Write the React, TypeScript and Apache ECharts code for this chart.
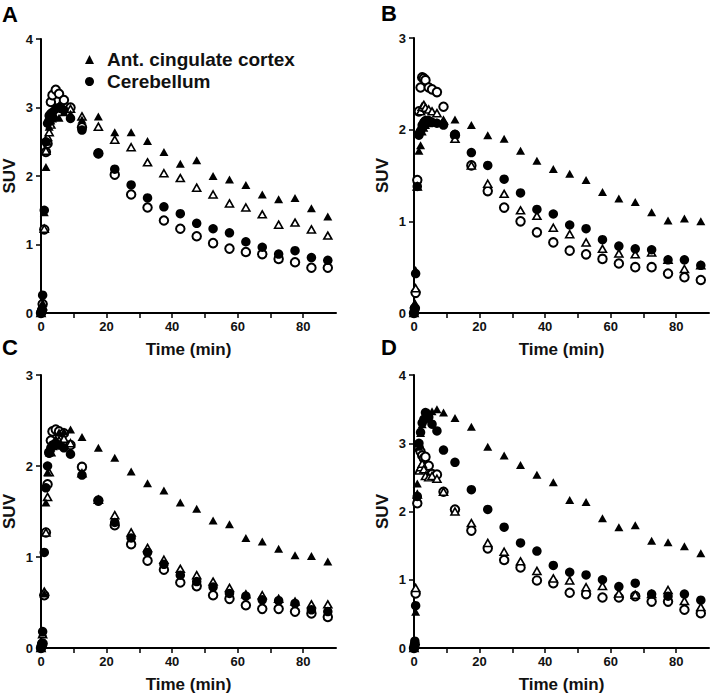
import React, { useEffect, useRef } from "react";
import * as echarts from "echarts";

const times = [0, 0.25, 0.5, 1, 1.5, 2, 2.5, 3, 3.5, 4.5, 5.5, 7, 9, 12.5, 17.5, 22.5, 27.5, 32.5, 37.5, 42.5, 47.5, 52.5, 57.5, 62.5, 67.5, 72.5, 77.5, 82.5, 87.5];

// Panel A
const aAccFilled = [0, 0.1, 0.15, 1.47, 2.13, 2.5, 2.72, 2.81, 2.84, 2.86, 2.85, 2.93, 2.91, 2.82, 2.87, 2.64, 2.64, 2.51, 2.35, 2.18, 2.23, 2.0, 1.95, 1.87, 1.73, 1.66, 1.68, 1.53, 1.41];
const aAccOpen = [0, 0.05, 0.1, 1.23, 2.37, 2.57, 2.64, 2.75, 2.86, 3.0, 3.02, 2.98, 2.98, 2.87, 2.72, 2.53, 2.42, 2.2, 2.04, 1.97, 1.83, 1.73, 1.6, 1.54, 1.44, 1.29, 1.32, 1.22, 1.13];
const aCbFilled = [0, 0.05, 0.26, 1.5, 2.5, 2.77, 2.88, 2.91, 2.93, 2.98, 3.0, 2.96, 2.84, 2.67, 2.33, 2.1, 1.87, 1.68, 1.55, 1.45, 1.31, 1.23, 1.17, 1.04, 0.96, 0.86, 0.91, 0.81, 0.77];
const aCbOpen = [0, 0.03, 0.13, 1.22, 2.35, 2.47, 2.8, 3.08, 3.18, 3.26, 3.2, 3.11, 3.0, 2.71, 2.33, 2.02, 1.73, 1.54, 1.35, 1.23, 1.12, 1.02, 0.94, 0.89, 0.86, 0.79, 0.74, 0.66, 0.66];

// Panel B
const bAccFilled = [0, 0.1, 0.47, 1.38, 1.77, 1.83, 1.98, 2.02, 2.05, 2.07, 2.08, 2.08, 2.1, 2.11, 2.05, 1.94, 1.9, 1.77, 1.66, 1.57, 1.52, 1.45, 1.32, 1.25, 1.21, 1.1, 1.01, 1.03, 1.0];
const bAccOpen = [0, 0.1, 0.27, 1.38, 2.0, 2.2, 2.25, 2.27, 2.24, 2.22, 2.2, 2.18, 2.1, 1.9, 1.61, 1.41, 1.3, 1.12, 1.06, 0.93, 0.86, 0.77, 0.7, 0.65, 0.64, 0.66, 0.58, 0.48, 0.52];
const bCbFilled = [0, 0.05, 0.43, 1.38, 1.94, 1.98, 2.05, 2.08, 2.1, 2.1, 2.08, 2.07, 2.05, 1.95, 1.75, 1.61, 1.46, 1.31, 1.13, 1.08, 0.96, 0.92, 0.8, 0.73, 0.7, 0.69, 0.58, 0.58, 0.52];
const bCbOpen = [0, 0.05, 0.22, 1.45, 2.2, 2.46, 2.57, 2.56, 2.54, 2.46, 2.44, 2.41, 2.25, 1.94, 1.61, 1.33, 1.15, 1.0, 0.88, 0.77, 0.68, 0.64, 0.59, 0.54, 0.5, 0.5, 0.43, 0.39, 0.36];

// Panel C
const cAccFilled = [0, 0.05, 0.17, 0.6, 1.6, 1.93, 2.15, 2.2, 2.25, 2.3, 2.37, 2.38, 2.4, 2.32, 2.2, 2.09, 1.94, 1.81, 1.73, 1.6, 1.53, 1.4, 1.36, 1.21, 1.17, 1.09, 1.02, 1.01, 0.95];
const cAccOpen = [0, 0.05, 0.15, 0.62, 1.27, 1.66, 1.93, 2.15, 2.22, 2.27, 2.28, 2.3, 2.25, 1.92, 1.63, 1.46, 1.27, 1.1, 0.97, 0.87, 0.8, 0.73, 0.66, 0.59, 0.58, 0.54, 0.51, 0.48, 0.48];
const cCbFilled = [0, 0.05, 0.18, 1.05, 1.76, 2.0, 2.14, 2.2, 2.23, 2.25, 2.23, 2.2, 2.13, 1.9, 1.62, 1.38, 1.21, 1.05, 0.92, 0.8, 0.73, 0.67, 0.6, 0.57, 0.53, 0.52, 0.49, 0.42, 0.4];
const cCbOpen = [0, 0.03, 0.05, 0.58, 1.27, 1.8, 2.15, 2.28, 2.38, 2.4, 2.38, 2.36, 2.23, 1.99, 1.62, 1.35, 1.14, 0.96, 0.86, 0.72, 0.68, 0.58, 0.54, 0.47, 0.43, 0.43, 0.4, 0.38, 0.34];

// Panel D
const dAccFilled = [0, 0.1, 0.53, 2.41, 2.95, 3.15, 3.28, 3.35, 3.4, 3.45, 3.47, 3.5, 3.45, 3.37, 3.24, 2.95, 2.82, 2.68, 2.54, 2.43, 2.17, 2.14, 1.9, 1.77, 1.8, 1.57, 1.55, 1.49, 1.39];
const dAccOpen = [0, 0.05, 0.88, 2.25, 2.6, 2.65, 2.7, 2.62, 2.52, 2.5, 2.52, 2.48, 2.29, 2.0, 1.83, 1.54, 1.41, 1.27, 1.13, 1.02, 0.99, 0.89, 0.91, 0.8, 0.78, 0.79, 0.85, 0.69, 0.6];
const dCbFilled = [0, 0.1, 0.62, 2.22, 3.0, 3.16, 3.3, 3.35, 3.45, 3.38, 3.28, 3.18, 2.9, 2.72, 2.32, 2.03, 1.77, 1.54, 1.42, 1.21, 1.11, 1.07, 1.0, 0.9, 0.95, 0.79, 0.76, 0.79, 0.7];
const dCbOpen = [0, 0.05, 0.8, 2.12, 2.93, 2.88, 2.82, 2.78, 2.8, 2.67, 2.55, 2.54, 2.29, 2.03, 1.72, 1.46, 1.29, 1.18, 0.99, 0.95, 0.81, 0.79, 0.74, 0.74, 0.76, 0.68, 0.68, 0.56, 0.51];

const panelLetters = ["A", "B", "C", "D"];
const yMaxes = [4, 3, 3, 4];
const xTicks = [0, 20, 40, 60, 80];
const legendNames = ["Ant. cingulate cortex", "Cerebellum"];
const xName = "Time (min)";
const yName = "SUV";

const panels = [
  { accF: aAccFilled, accO: aAccOpen, cbF: aCbFilled, cbO: aCbOpen },
  { accF: bAccFilled, accO: bAccOpen, cbF: bCbFilled, cbO: bCbOpen },
  { accF: cAccFilled, accO: cAccOpen, cbF: cCbFilled, cbO: cCbOpen },
  { accF: dAccFilled, accO: dAccOpen, cbF: dCbFilled, cbO: dCbOpen },
];

const FONT = "'Liberation Sans', Arial, Helvetica, sans-serif";

const grids = [
  { left: 40, top: 39, width: 296, height: 274 },
  { left: 414, top: 38, width: 295, height: 275 },
  { left: 40, top: 375, width: 296, height: 273 },
  { left: 414, top: 375, width: 295, height: 273 },
];
const letterPos = [
  { left: 2, top: 3 },
  { left: 381, top: 2 },
  { left: 2, top: 336 },
  { left: 381, top: 336 },
];

export default function App() {
  const ref = useRef<HTMLDivElement>(null);
  useEffect(() => {
    if (!ref.current) return;
    const chart = echarts.init(ref.current, undefined, { renderer: "svg" });
    const axisLine = { show: true, onZero: false, lineStyle: { color: "#000", width: 2 } };
    const axisTick = { show: true, inside: false, length: 5, lineStyle: { color: "#000", width: 1.5 } };
    const xAxis = grids.map((_, i) => ({
      type: "value",
      gridIndex: i,
      min: 0,
      max: 90,
      interval: 10,
      name: xName,
      nameLocation: "middle",
      nameGap: 28,
      nameTextStyle: { fontFamily: FONT, fontSize: 17, fontWeight: "bold", color: "#111" },
      axisLine,
      axisTick,
      splitLine: { show: false },
      axisLabel: {
        margin: 7,
        fontFamily: FONT,
        fontSize: 13,
        fontWeight: "bold",
        color: "#111",
        showMaxLabel: false,
        formatter: (v: number) => (xTicks.includes(v) ? String(v) : ""),
      },
    }));
    const yAxis = grids.map((_, i) => ({
      type: "value",
      gridIndex: i,
      min: 0,
      max: yMaxes[i],
      interval: 1,
      name: yName,
      nameLocation: "middle",
      nameGap: 23,
      nameTextStyle: { fontFamily: FONT, fontSize: 17, fontWeight: "bold", color: "#111" },
      axisLine,
      axisTick,
      splitLine: { show: false },
      axisLabel: { margin: 8, fontFamily: FONT, fontSize: 13, fontWeight: "bold", color: "#111" },
    }));
    const series: any[] = [];
    panels.forEach((p, i) => {
      const mk = (vals: number[]) => times.map((t, j) => [t, vals[j]]);
      series.push({
        type: "scatter", name: "Cerebellum (open)", xAxisIndex: i, yAxisIndex: i, data: mk(p.cbO),
        symbol: "circle", symbolSize: 8.5,
        itemStyle: { color: "#fff", borderColor: "#000", borderWidth: 2, opacity: 1 }, z: 2,
      });
      series.push({
        type: "scatter", name: "Ant. cingulate cortex (open)", xAxisIndex: i, yAxisIndex: i, data: mk(p.accO),
        symbol: "triangle", symbolSize: [8, 7],
        itemStyle: { color: "#fff", borderColor: "#000", borderWidth: 1.6, opacity: 1 }, z: 3,
      });
      series.push({
        type: "scatter", name: legendNames[1], xAxisIndex: i, yAxisIndex: i, data: mk(p.cbF),
        symbol: "circle", symbolSize: 9.5,
        itemStyle: { color: "#000", opacity: 1 }, z: 4,
      });
      series.push({
        type: "scatter", name: legendNames[0], xAxisIndex: i, yAxisIndex: i, data: mk(p.accF),
        symbol: "triangle", symbolSize: [9, 8],
        itemStyle: { color: "#000", opacity: 1 }, z: 5,
      });
    });
    chart.setOption({
      animation: false,
      backgroundColor: "#fff",
      title: panelLetters.map((l, i) => ({
        text: l,
        left: letterPos[i].left,
        top: letterPos[i].top,
        padding: 0,
        textStyle: { fontFamily: FONT, fontSize: 22, fontWeight: "bold", color: "#000" },
      })),
      legend: {
        data: [
          { name: legendNames[0], icon: "triangle" },
          { name: legendNames[1], icon: "circle" },
        ],
        orient: "vertical",
        left: 85,
        top: 50,
        padding: 0,
        itemWidth: 9,
        itemHeight: 9,
        itemGap: 3,
        selectedMode: false,
        textStyle: { fontFamily: FONT, fontSize: 19, fontWeight: "bold", color: "#111", padding: [0, 0, 0, 8], lineHeight: 19 },
      },
      grid: grids,
      xAxis,
      yAxis,
      series,
    });
    return () => chart.dispose();
  }, []);
  return <div ref={ref} style={{ position: "fixed", left: 0, top: 0, width: 714, height: 697 }} />;
}
